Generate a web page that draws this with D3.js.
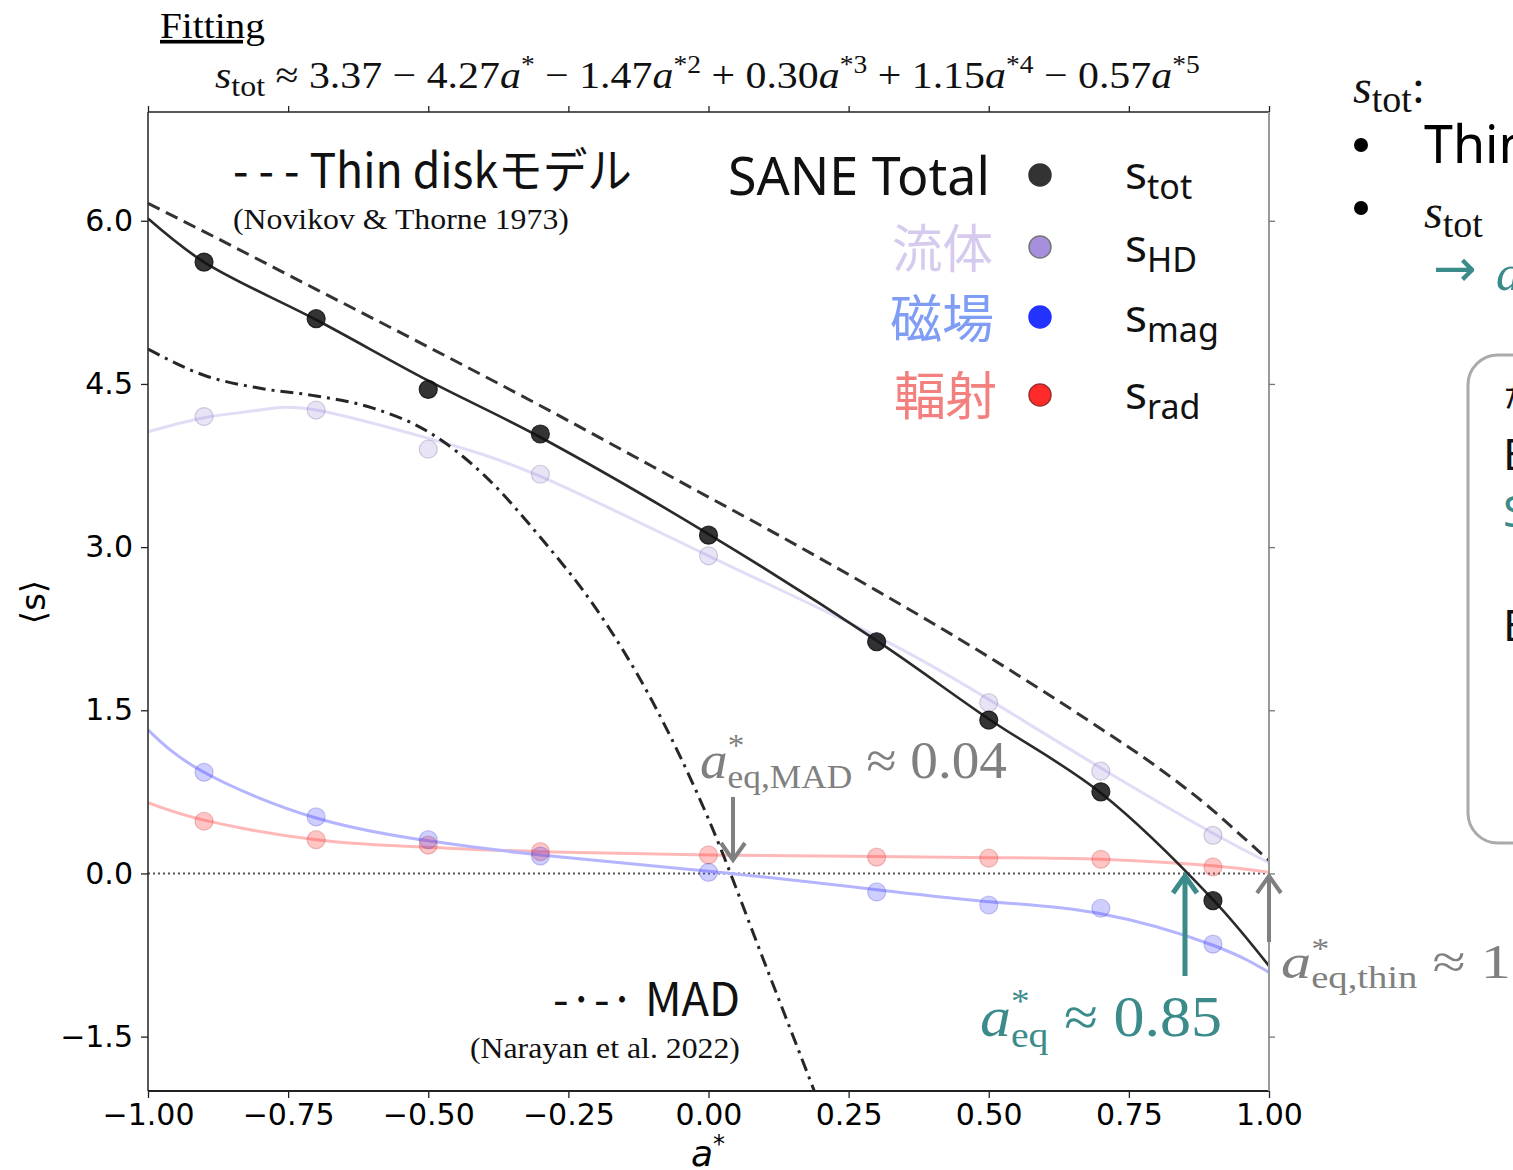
<!DOCTYPE html>
<html><head><meta charset="utf-8">
<script src="https://cdn.jsdelivr.net/npm/d3@7"></script>
<style>
html,body{margin:0;padding:0;background:#fff;overflow:hidden;}
svg{display:block;}
</style></head>
<body>
<svg id="c" width="1513" height="1170"></svg>
<script>
// ---- data ----
const spins = [-0.9,-0.7,-0.5,-0.3,0,0.3,0.5,0.7,0.9];
const sTot = [5.62,5.10,4.45,4.04,3.11,2.13,1.41,0.75,-0.25];
const sHD  = [4.20,4.26,3.90,3.67,2.92,2.13,1.57,0.94,0.35];
const sMag = [0.93,0.52,0.31,0.16,0.01,-0.17,-0.29,-0.32,-0.65];
const sRad = [0.48,0.31,0.26,0.20,0.17,0.15,0.14,0.13,0.06];

const fitSpins = [-1,-0.9,-0.7,-0.5,-0.3,0,0.3,0.5,0.7,0.9,1];
const fitTot = [6.02,5.62,5.09,4.53,4.01,3.12,2.14,1.42,0.74,-0.24,-0.85];
const fitMag = [1.32,0.93,0.51,0.30,0.17,0.02,-0.15,-0.26,-0.37,-0.66,-0.91];
const fitRad = [0.65,0.49,0.31,0.24,0.20,0.17,0.155,0.145,0.13,0.07,0.01];
const hdSpins = [-1,-0.9,-0.8,-0.7,-0.5,-0.3,0,0.3,0.5,0.7,0.9,1];
const fitHD  = [4.06,4.19,4.26,4.26,4.00,3.65,2.92,2.18,1.60,0.97,0.37,0.10];

const thinSpins = [-1,-0.9,-0.7,-0.5,-0.3,0,0.1,0.3,0.5,0.7,0.8,0.9,0.95,1];
const thinS = [6.16,5.90,5.37,4.84,4.30,3.46,3.18,2.60,1.99,1.33,0.98,0.58,0.35,0.12];

const madSpins = [-1,-0.9,-0.8,-0.7,-0.6,-0.5,-0.4,-0.3,-0.2,-0.1,0,0.1,0.2];
const madS = [4.82,4.58,4.46,4.39,4.28,4.06,3.66,3.09,2.43,1.58,0.50,-0.82,-2.15];

const xTicks = [-1,-0.75,-0.5,-0.25,0,0.25,0.5,0.75,1];
const yTicks = [-1.5,0,1.5,3,4.5,6];

// ---- layout ----
const svg = d3.select("#c");
const L=148, R=1269, T=112, B=1091;
const x = d3.scaleLinear().domain([-1,1]).range([L,R]);
const y = d3.scaleLinear().domain([-2,7]).range([B,T]);

// stretch a text horizontally so it spans [x0, x0+w]
function fitW(sel, x0, w){
  const b = sel.node().getBBox();
  const k = w / b.width;
  sel.attr("transform", `translate(${x0 - k*b.x},0) scale(${k},1)`);
  return sel;
}

svg.append("defs").append("clipPath").attr("id","pc")
  .append("rect").attr("x",L).attr("y",T).attr("width",R-L).attr("height",B-T);

const plot = svg.append("g").attr("clip-path","url(#pc)");

plot.append("line").attr("x1",L).attr("x2",R).attr("y1",y(0)).attr("y2",y(0))
  .attr("stroke","#555").attr("stroke-width",2).attr("stroke-dasharray","2,3");

const lineM = d3.line().curve(d3.curveMonotoneX).x(d=>x(d[0])).y(d=>y(d[1]));
const lineN = d3.line().curve(d3.curveNatural).x(d=>x(d[0])).y(d=>y(d[1]));
const lineC = d3.line().curve(d3.curveCatmullRom.alpha(0.5)).x(d=>x(d[0])).y(d=>y(d[1]));
const zip=(a,b)=>a.map((v,i)=>[v,b[i]]);

plot.append("path").attr("d",lineN(zip(fitSpins,fitRad)))
  .attr("fill","none").attr("stroke","#ffb8b8").attr("stroke-width",3);
plot.append("path").attr("d",lineN(zip(fitSpins,fitMag)))
  .attr("fill","none").attr("stroke","#b4b4ff").attr("stroke-width",3);
plot.append("path").attr("d",lineN(zip(hdSpins,fitHD)))
  .attr("fill","none").attr("stroke","#e2dcf6").attr("stroke-width",3);
plot.append("path").attr("d",lineM(zip(thinSpins,thinS)))
  .attr("fill","none").attr("stroke","#333").attr("stroke-width",3).attr("stroke-dasharray","13,7");
plot.append("path").attr("d",lineM(zip(madSpins,madS)))
  .attr("fill","none").attr("stroke","#262626").attr("stroke-width",3).attr("stroke-dasharray","13,6,3,6");
plot.append("path").attr("d",lineC(zip(fitSpins,fitTot)))
  .attr("fill","none").attr("stroke","#2a2a2a").attr("stroke-width",2.6);

function pts(vals, fill, stroke, op){
  plot.append("g").selectAll("circle").data(zip(spins,vals)).join("circle")
    .attr("cx",d=>x(d[0])).attr("cy",d=>y(d[1])).attr("r",9)
    .attr("fill",fill).attr("fill-opacity",op).attr("stroke",stroke).attr("stroke-opacity",op).attr("stroke-width",1.2);
}
pts(sRad,"#ff4040","#c04040",0.3);
pts(sMag,"#4040ff","#3030c0",0.25);
pts(sHD,"#a890dc","#605080",0.25);
pts(sTot,"#111","#111",0.85);

// ---- axes/frame ----
const ax = svg.append("g");
ax.append("line").attr("x1",L).attr("x2",R).attr("y1",T).attr("y2",T).attr("stroke","#222").attr("stroke-width",1.5);
ax.append("line").attr("x1",L).attr("x2",R).attr("y1",B).attr("y2",B).attr("stroke","#222").attr("stroke-width",2);
ax.append("line").attr("x1",L).attr("x2",L).attr("y1",T).attr("y2",B).attr("stroke","#222").attr("stroke-width",1.5);
ax.append("line").attr("x1",R).attr("x2",R).attr("y1",T).attr("y2",B).attr("stroke","#999").attr("stroke-width",2);

const xb = svg.append("g").attr("transform",`translate(0,${B})`)
  .call(d3.axisBottom(x).tickValues(xTicks).tickSize(7).tickPadding(6).tickFormat(d3.format(".2f")));
const xt = svg.append("g").attr("transform",`translate(0,${T})`)
  .call(d3.axisTop(x).tickValues(xTicks).tickSize(6).tickFormat(""));
const yl = svg.append("g").attr("transform",`translate(${L},0)`)
  .call(d3.axisLeft(y).tickValues(yTicks).tickSize(7).tickPadding(8).tickFormat(d3.format(".1f")));
const yr = svg.append("g").attr("transform",`translate(${R},0)`)
  .call(d3.axisRight(y).tickValues(yTicks).tickSize(6).tickFormat(""));
[xb,xt,yl,yr].forEach(g=>{g.select(".domain").remove();g.selectAll("line").attr("stroke","#222").attr("stroke-width",1.3);});
yr.selectAll("line").attr("stroke","#777");
[xb,yl].forEach(g=>g.selectAll("text").attr("font-family","DejaVu Sans").attr("font-size",30).attr("fill","#000")
  .text(function(){return this.textContent.replace("-","\u2212");}));

svg.append("text").attr("x",708).attr("y",1166).attr("text-anchor","middle")
  .attr("font-family","DejaVu Sans").attr("font-size",36).attr("font-style","italic")
  .html('a<tspan dy="-14" font-size="24" font-style="normal">*</tspan>');
svg.append("text").attr("transform","translate(45,602) rotate(-90)").attr("text-anchor","middle")
  .attr("font-family","DejaVu Sans").attr("font-size",34).text("\u27E8s\u27E9");

// ---- title / formula ----
fitW(svg.append("text").attr("x",160).attr("y",38).attr("font-family","Liberation Serif").attr("font-size",36)
  .attr("text-decoration","underline").text("Fitting"),160,105);
const f = svg.append("text").attr("x",215).attr("y",88).attr("font-family","Liberation Serif").attr("font-size",38).attr("fill","#111");
f.append("tspan").attr("font-style","italic").text("s");
f.append("tspan").attr("dy",8).attr("font-size",29).text("tot");
f.append("tspan").attr("dy",-8).text(" \u2248 3.37 \u2212 4.27");
const terms = [[" \u2212 1.47","*2"],[" + 0.30","*3"],[" + 1.15","*4"],[" \u2212 0.57","*5"]];
f.append("tspan").attr("font-style","italic").text("a");
f.append("tspan").attr("dy",-15).attr("font-size",25).text("*");
terms.forEach(t=>{
  f.append("tspan").attr("dy",15).text(t[0]);
  f.append("tspan").attr("font-style","italic").text("a");
  f.append("tspan").attr("dy",-15).attr("font-size",25).text(t[1]);
});
fitW(f,215,985);

// ---- legends in plot ----
const sans = "'Noto Sans','Noto Sans CJK JP',sans-serif";
const cjk = "'Noto Sans CJK JP','Noto Sans',sans-serif";
fitW(svg.append("text").attr("x",233).attr("y",188).attr("font-family",cjk).attr("font-size",48).attr("fill","#111")
  .text("- - - Thin disk\u30E2\u30C7\u30EB"),233,399);
fitW(svg.append("text").attr("x",233).attr("y",229).attr("font-family","Liberation Serif").attr("font-size",30).attr("fill","#111")
  .text("(Novikov & Thorne 1973)"),233,336);
fitW(svg.append("text").attr("x",553).attr("y",1016).attr("font-family",cjk).attr("font-size",46).attr("fill","#111")
  .text("-\u00B7-\u00B7 MAD"),553,187);
fitW(svg.append("text").attr("x",470).attr("y",1058).attr("font-family","Liberation Serif").attr("font-size",30).attr("fill","#111")
  .text("(Narayan et al. 2022)"),470,270);

const legNames = ["SANE Total","\u6D41\u4F53","\u78C1\u5834","\u8F3B\u5C04"];
const legColors = ["#111","#d6cbef","#7f9df5","#f47f7f"];
const legY = [195,268,338,415];
const legX0 = [728,892,890,894];
const legW = [262,101,104,103];
const legDotY = [175,247,317,395];
const legDot = ["#333","#a68fdc","#2233ff","#ff2a2a"];
const legDotStroke = ["#333","#777","#2233ff","#a03030"];
const legSub = ["tot","HD","mag","rad"];
legNames.forEach((n,i)=>{
  fitW(svg.append("text").attr("x",legX0[i]).attr("y",legY[i])
    .attr("font-family",i===0?sans:cjk).attr("font-size",52).attr("fill",legColors[i]).text(n), legX0[i], legW[i]);
  svg.append("circle").attr("cx",1040).attr("cy",legDotY[i]).attr("r",11)
    .attr("fill",legDot[i]).attr("stroke",legDotStroke[i]).attr("stroke-width",1.5);
  const t = svg.append("text").attr("x",1125).attr("y",legY[i]-6).attr("font-family",sans).attr("font-size",46).attr("fill","#111");
  t.append("tspan").text("s");
  t.append("tspan").attr("dy",10).attr("font-size",34).text(legSub[i]);
});

// ---- annotations ----
const gray="#808080", teal="#3b8b8b";
function arrow(x0,y0,y1,col,w){
  svg.append("line").attr("x1",x0).attr("x2",x0).attr("y1",y0).attr("y2",y1).attr("stroke",col).attr("stroke-width",w);
  const d = y1>y0?-1:1;
  svg.append("path").attr("d",`M${x0-12},${y1+d*17}L${x0},${y1}L${x0+12},${y1+d*17}`)
    .attr("fill","none").attr("stroke",col).attr("stroke-width",w).attr("stroke-linejoin","miter");
}
arrow(733,797,860,gray,4);
arrow(1185,976,876,teal,5);
arrow(1269,942,876,gray,4);

function aLabel(xp,yp,sub,rest,col,fs){
  const t = svg.append("text").attr("x",xp).attr("y",yp).attr("font-family","Liberation Serif").attr("font-size",fs).attr("fill",col);
  t.append("tspan").attr("font-style","italic").text("a");
  t.append("tspan").attr("dy",-fs*0.42).attr("font-size",fs*0.6).text("*");
  t.append("tspan").attr("dx",-fs*0.3).attr("dy",fs*0.62).attr("font-size",fs*0.64).text(sub);
  t.append("tspan").attr("dy",-fs*0.2).text(rest);
  return t;
}
fitW(aLabel(700,778,"eq,MAD"," \u2248 0.04",gray,52),700,307);
fitW(aLabel(980,1036,"eq"," \u2248 0.85",teal,56),980,242);
fitW(aLabel(1281,978,"eq,thin"," \u2248 1",gray,48),1281,230);

// ---- right-hand slide text (cut off by the edge) ----
const r1 = svg.append("text").attr("x",1353).attr("y",103).attr("font-family","Liberation Serif").attr("font-size",48).attr("fill","#111");
r1.append("tspan").attr("font-style","italic").text("s");
r1.append("tspan").attr("dy",9).attr("font-size",38).text("tot");
r1.append("tspan").attr("dy",-9).text(":");
svg.append("circle").attr("cx",1361).attr("cy",145).attr("r",7).attr("fill","#000");
svg.append("circle").attr("cx",1361).attr("cy",208).attr("r",7).attr("fill","#000");
svg.append("text").attr("x",1424).attr("y",163).attr("font-family",sans).attr("font-size",52).attr("fill","#000").text("Thin disk");
const r2 = svg.append("text").attr("x",1424).attr("y",228).attr("font-family","Liberation Serif").attr("font-size",48).attr("fill","#111");
r2.append("tspan").attr("font-style","italic").text("s");
r2.append("tspan").attr("dy",9).attr("font-size",38).text("tot");
svg.append("text").attr("x",1433).attr("y",286).attr("font-family","DejaVu Sans").attr("font-size",52).attr("fill",teal).text("\u2192");
svg.append("text").attr("x",1496).attr("y",290).attr("font-family","Liberation Serif").attr("font-style","italic").attr("font-size",50).attr("fill",teal).text("a");
svg.append("rect").attr("x",1468).attr("y",355).attr("width",120).attr("height",488).attr("rx",30)
  .attr("fill","none").attr("stroke","#aaa").attr("stroke-width",3);
svg.append("text").attr("x",1503).attr("y",407).attr("font-family",cjk).attr("font-size",30).attr("fill","#111").text("\u305F");
svg.append("text").attr("x",1503).attr("y",470).attr("font-family",sans).attr("font-size",44).attr("fill","#111").text("B");
svg.append("text").attr("x",1503).attr("y",527).attr("font-family",sans).attr("font-size",44).attr("fill",teal).text("S");
svg.append("text").attr("x",1503).attr("y",641).attr("font-family",sans).attr("font-size",44).attr("fill","#111").text("B");
</script>
</body></html>
